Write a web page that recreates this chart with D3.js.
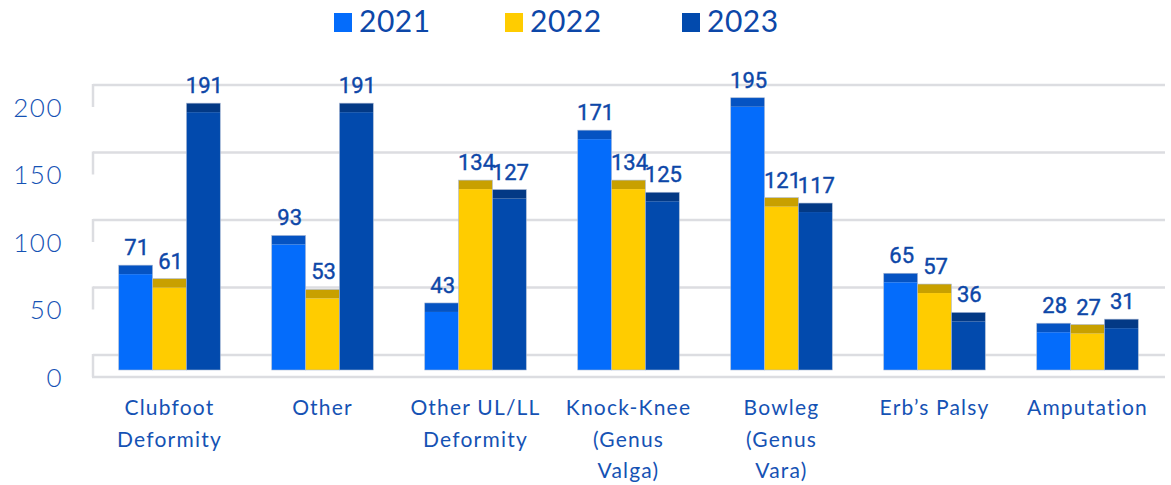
<!DOCTYPE html>
<html>
<head>
<meta charset="utf-8">
<script src="https://cdn.jsdelivr.net/npm/d3@7"></script>
<style>
  body { margin: 0; background: #fff; }
  svg text { font-family: "Lato", "Noto Sans", sans-serif; }
</style>
</head>
<body>
<div id="chart"></div>
<script>
// data
const categories = [
  ["Clubfoot", "Deformity"],
  ["Other"],
  ["Other UL/LL", "Deformity"],
  ["Knock-Knee", "(Genus", "Valga)"],
  ["Bowleg", "(Genus", "Vara)"],
  ["Erb’s Palsy"],
  ["Amputation"]
];
const years = ["2021", "2022", "2023"];
const values2021 = [71, 93, 43, 171, 195, 65, 28];
const values2022 = [61, 53, 134, 134, 121, 57, 27];
const values2023 = [191, 191, 127, 125, 117, 36, 31];
const yTicks = [0, 50, 100, 150, 200];

const series = [values2021, values2022, values2023];
const frontColor = ["#046cfb", "#ffcc00", "#024aad"];
const capColor = ["#0553c2", "#c8a000", "#033985"];
const textColor = "#1552b4";

const W = 1171, H = 485;
const depth = 9;        // height of the bar top face
const wallBack = 15;    // gridlines sit this much behind the bar fronts

const svg = d3.select("#chart").append("svg")
    .attr("width", W)
    .attr("height", H);

const catKeys = categories.map(c => c.join(" "));
const x = d3.scaleBand()
    .domain(catKeys)
    .range([93, 1164]);
const xs = d3.scaleBand()
    .domain(years)
    .range([0, x.bandwidth()])
    .paddingOuter(0.76);
const y = d3.scaleLinear()
    .domain([0, 200])
    .range([370, 100]);

// back wall gridlines (with short left-side bracket)
const grid = svg.append("g").attr("class", "grid");
yTicks.forEach(t => {
  const gy = y(t) - wallBack;
  grid.append("line")
      .attr("x1", 93).attr("x2", 1165)
      .attr("y1", gy).attr("y2", gy)
      .attr("stroke", "#dcdde1").attr("stroke-width", 2.5);
  grid.append("line")
      .attr("x1", 93).attr("x2", 93)
      .attr("y1", gy - 1).attr("y2", gy + 22)
      .attr("stroke", "#dcdde1").attr("stroke-width", 2.5);
});
// floor front edge
grid.append("line")
    .attr("x1", 92).attr("x2", 1165)
    .attr("y1", y(0) + 7).attr("y2", y(0) + 7)
    .attr("stroke", "#dcdde1").attr("stroke-width", 2.5);

// y axis labels
const yAxis = svg.append("g")
    .attr("transform", "translate(63,7)")
    .call(d3.axisLeft(y).tickValues(yTicks).tickSize(0).tickPadding(0));
yAxis.select(".domain").remove();
yAxis.selectAll("text")
    .style("font-size", "26px")
    .style("font-weight", 300)
    .style("letter-spacing", "1.5px")
    .attr("fill", textColor)
    .attr("dy", "0.36em");

// bars
series.forEach((vals, si) => {
  const g = svg.append("g").attr("class", "series-" + years[si]);
  vals.forEach((v, ci) => {
    const bx = x(catKeys[ci]) + xs(years[si]);
    const bw = xs.bandwidth();
    g.append("rect")
        .attr("x", bx).attr("y", y(v))
        .attr("width", bw).attr("height", y(0) - y(v))
        .attr("fill", frontColor[si]);
    g.append("rect")
        .attr("x", bx).attr("y", y(v) - depth)
        .attr("width", bw).attr("height", depth)
        .attr("fill", capColor[si]);
    g.append("rect")
        .attr("x", bx).attr("y", y(v) - depth)
        .attr("width", bw).attr("height", y(0) - y(v) + depth)
        .attr("fill", "none")
        .attr("stroke", "#a9b8d4").attr("stroke-width", 0.6);
    g.append("text")
        .attr("x", bx + bw / 2 + 1)
        .attr("y", y(v) - depth - 10)
        .attr("text-anchor", "middle")
        .attr("fill", "#0d47a8")
        .style("font-family", "Roboto, sans-serif")
        .style("font-size", "22px")
        .style("font-weight", 400)
        .style("stroke", "#0d47a8")
        .style("stroke-width", "0.4px")
        .text(v);
  });
});

// category labels
const xAxis = svg.append("g");
categories.forEach((lines, ci) => {
  const t = xAxis.append("text")
      .attr("x", x(catKeys[ci]) + x.bandwidth() / 2)
      .attr("y", 415)
      .attr("text-anchor", "middle")
      .attr("fill", textColor)
      .style("font-size", "21px")
      .style("font-weight", 400)
      .style("letter-spacing", "1.2px");
  lines.forEach((ln, li) => {
    t.append("tspan")
        .attr("x", x(catKeys[ci]) + x.bandwidth() / 2)
        .attr("dy", li === 0 ? 0 : 31.5)
        .text(ln);
  });
});

// legend
const legendX = [334, 505, 682];
const legend = svg.append("g");
years.forEach((yr, i) => {
  legend.append("rect")
      .attr("x", legendX[i]).attr("y", 13)
      .attr("width", 18).attr("height", 19)
      .attr("fill", frontColor[i]);
  legend.append("text")
      .attr("x", legendX[i] + 25).attr("y", 32)
      .attr("fill", "#0d47a8")
      .style("font-size", "30px")
      .style("letter-spacing", "0.5px")
      .text(yr);
});
</script>
</body>
</html>
